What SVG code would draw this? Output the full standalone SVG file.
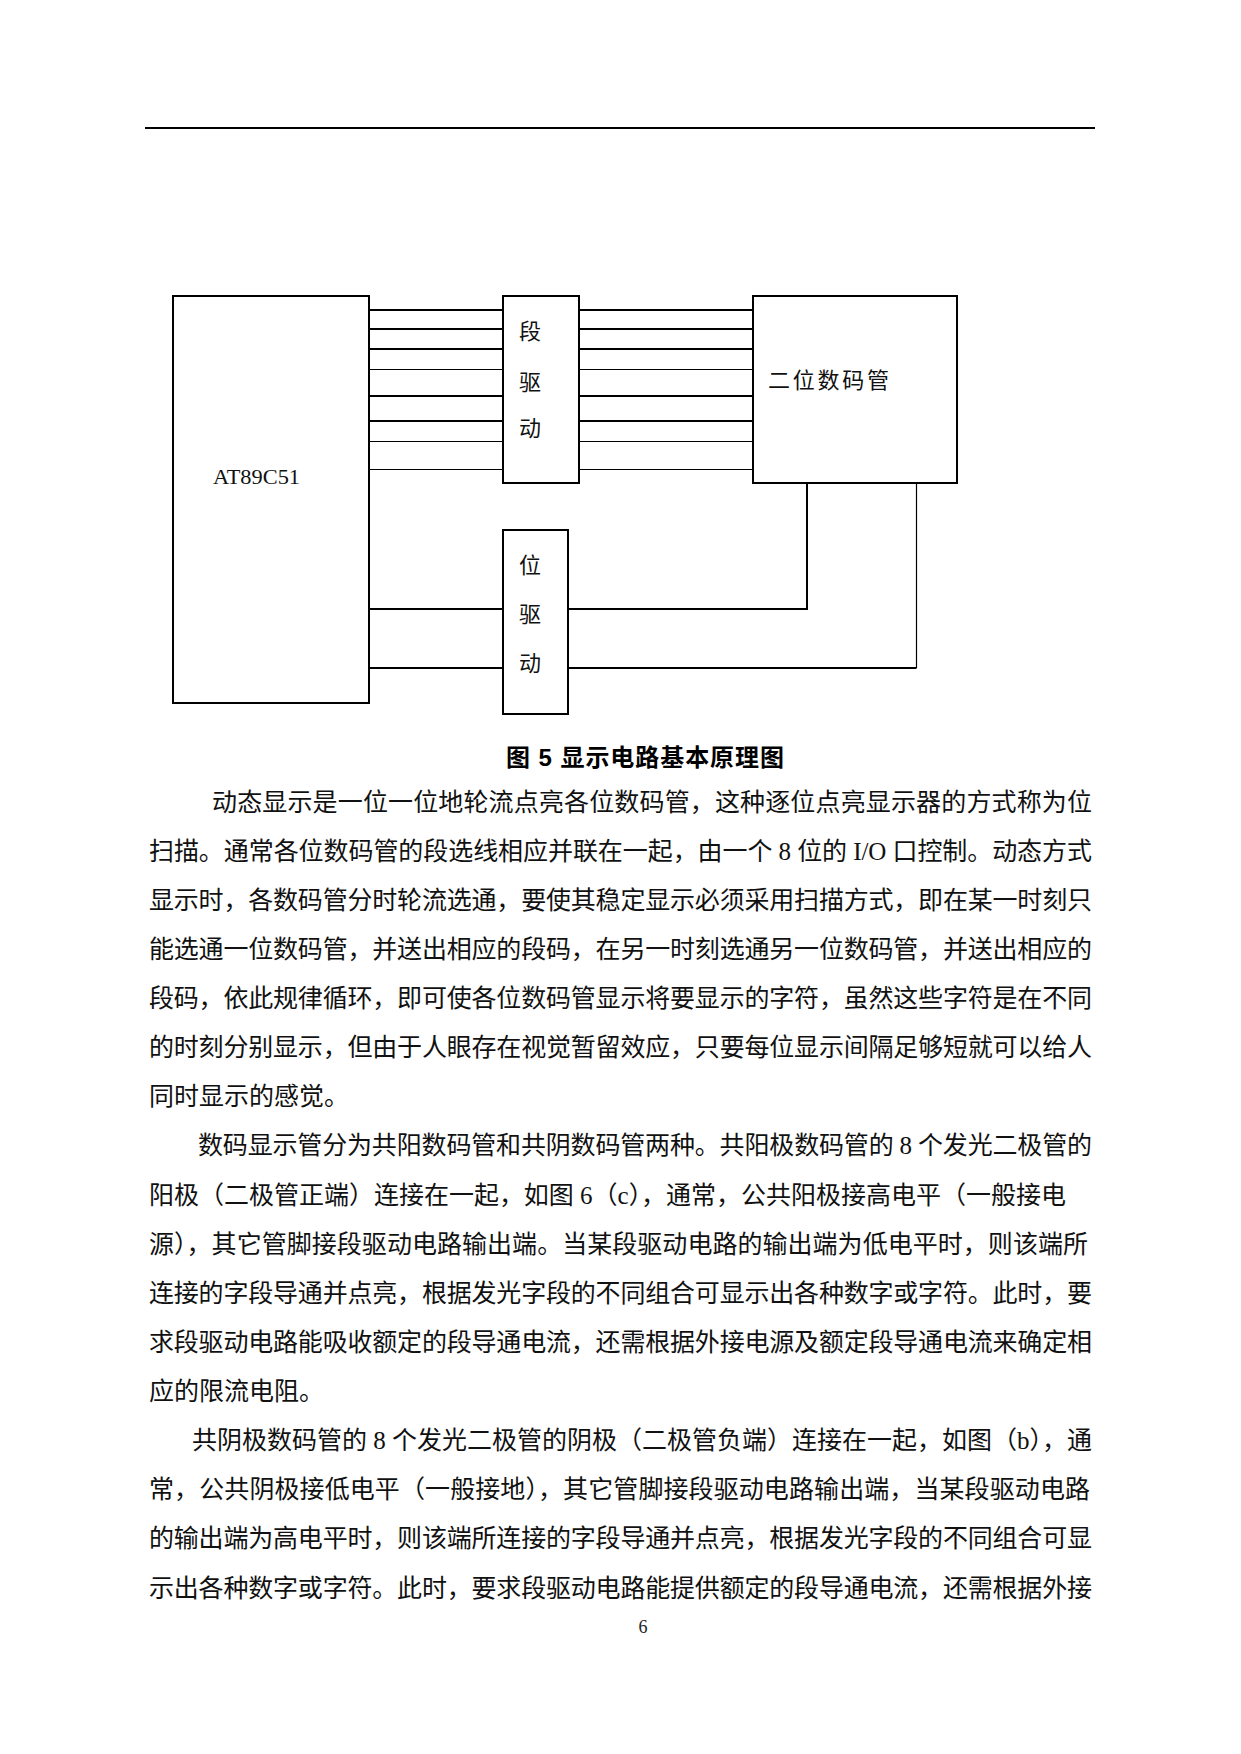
<svg xmlns="http://www.w3.org/2000/svg" width="1241" height="1754" viewBox="0 0 1241 1754">
<style>
.box{fill:#fff;stroke:#000;stroke-width:2}
.w{stroke:#000;stroke-width:2;fill:none}
.wt{stroke:#000;stroke-width:1.2;fill:none}
.lbl{font-family:"Liberation Serif","Noto Sans CJK SC",serif;font-size:22px;fill:#111}
.body{font-family:"Liberation Serif","Noto Sans CJK SC",serif;font-size:25px;fill:#111}
.cap{font-family:"Liberation Sans","Noto Sans CJK SC",sans-serif;font-size:24px;font-weight:bold;fill:#000}
.pg{font-family:"Liberation Serif",serif;font-size:18px;fill:#222}
</style>
<rect x="0" y="0" width="1241" height="1754" fill="#fff"/>
<line x1="145" y1="128" x2="1095" y2="128" stroke="#000" stroke-width="2"/>

<g id="connectors">
<path class="w" d="M369 310H503M369 329H503M369 349H503M369 396H503M369 421H503"/>
<path class="wt" d="M369 369.5H503M369 441.5H503M369 469.5H503"/>
<path class="w" d="M579 310H753M579 329H753M579 349H753M579 396H753M579 421H753"/>
<path class="wt" d="M579 369.5H753M579 441.5H753M579 469.5H753"/>
<path class="w" d="M369 609H503M369 668H503"/>
<path class="w" d="M568 609H807V483"/>
<path class="w" d="M568 668H916.5"/>
<path class="wt" d="M916.5 668V483"/>
</g>

<g id="mcu">
<rect class="box" x="173" y="296" width="196" height="407"/>
<text class="lbl" x="213" y="484" textLength="87" lengthAdjust="spacingAndGlyphs">AT89C51</text>
</g>
<g id="seg-driver">
<rect class="box" x="503" y="296" width="76" height="187"/>
<text class="lbl" x="530" y="339" text-anchor="middle">段</text>
<text class="lbl" x="530" y="390" text-anchor="middle">驱</text>
<text class="lbl" x="530" y="436" text-anchor="middle">动</text>
</g>
<g id="display">
<rect class="box" x="753" y="296" width="204" height="187"/>
<text class="lbl" x="768" y="388" textLength="121" lengthAdjust="spacing">二位数码管</text>
</g>
<g id="bit-driver">
<rect class="box" x="503" y="530" width="65" height="184"/>
<text class="lbl" x="530" y="573" text-anchor="middle">位</text>
<text class="lbl" x="530" y="622" text-anchor="middle">驱</text>
<text class="lbl" x="530" y="671" text-anchor="middle">动</text>
</g>

<text class="cap" x="506" y="766" textLength="278" lengthAdjust="spacing">图 5  显示电路基本原理图</text>

<g id="body-text">
<text class="body" x="212" y="810.5" textLength="880" lengthAdjust="spacing">动态显示是一位一位地轮流点亮各位数码管，这种逐位点亮显示器的方式称为位</text>
<text class="body" x="149" y="859.6" textLength="943" lengthAdjust="spacing">扫描。通常各位数码管的段选线相应并联在一起，由一个 8 位的 I/O 口控制。动态方式</text>
<text class="body" x="149" y="908.8" textLength="943" lengthAdjust="spacing">显示时，各数码管分时轮流选通，要使其稳定显示必须采用扫描方式，即在某一时刻只</text>
<text class="body" x="149" y="957.9" textLength="943" lengthAdjust="spacing">能选通一位数码管，并送出相应的段码，在另一时刻选通另一位数码管，并送出相应的</text>
<text class="body" x="149" y="1007" textLength="943" lengthAdjust="spacing">段码，依此规律循环，即可使各位数码管显示将要显示的字符，虽然这些字符是在不同</text>
<text class="body" x="149" y="1056.1" textLength="943" lengthAdjust="spacing">的时刻分别显示，但由于人眼存在视觉暂留效应，只要每位显示间隔足够短就可以给人</text>
<text class="body" x="149" y="1105.3">同时显示的感觉。</text>
<text class="body" x="198" y="1154.4" textLength="894" lengthAdjust="spacing">数码显示管分为共阳数码管和共阴数码管两种。共阳极数码管的 8 个发光二极管的</text>
<text class="body" x="149" y="1203.5" textLength="917" lengthAdjust="spacing">阳极（二极管正端）连接在一起，如图 6（c），通常，公共阳极接高电平（一般接电</text>
<text class="body" x="149" y="1252.6" textLength="939" lengthAdjust="spacing">源），其它管脚接段驱动电路输出端。当某段驱动电路的输出端为低电平时，则该端所</text>
<text class="body" x="149" y="1301.8" textLength="943" lengthAdjust="spacing">连接的字段导通并点亮，根据发光字段的不同组合可显示出各种数字或字符。此时，要</text>
<text class="body" x="149" y="1350.9" textLength="943" lengthAdjust="spacing">求段驱动电路能吸收额定的段导通电流，还需根据外接电源及额定段导通电流来确定相</text>
<text class="body" x="149" y="1400">应的限流电阻。</text>
<text class="body" x="192" y="1449.1" textLength="900" lengthAdjust="spacing">共阴极数码管的 8 个发光二极管的阴极（二极管负端）连接在一起，如图（b），通</text>
<text class="body" x="149" y="1498.3" textLength="941" lengthAdjust="spacing">常，公共阴极接低电平（一般接地），其它管脚接段驱动电路输出端，当某段驱动电路</text>
<text class="body" x="149" y="1547.4" textLength="943" lengthAdjust="spacing">的输出端为高电平时，则该端所连接的字段导通并点亮，根据发光字段的不同组合可显</text>
<text class="body" x="149" y="1596.5" textLength="943" lengthAdjust="spacing">示出各种数字或字符。此时，要求段驱动电路能提供额定的段导通电流，还需根据外接</text>
</g>

<text class="pg" x="643" y="1633" text-anchor="middle">6</text>
</svg>
